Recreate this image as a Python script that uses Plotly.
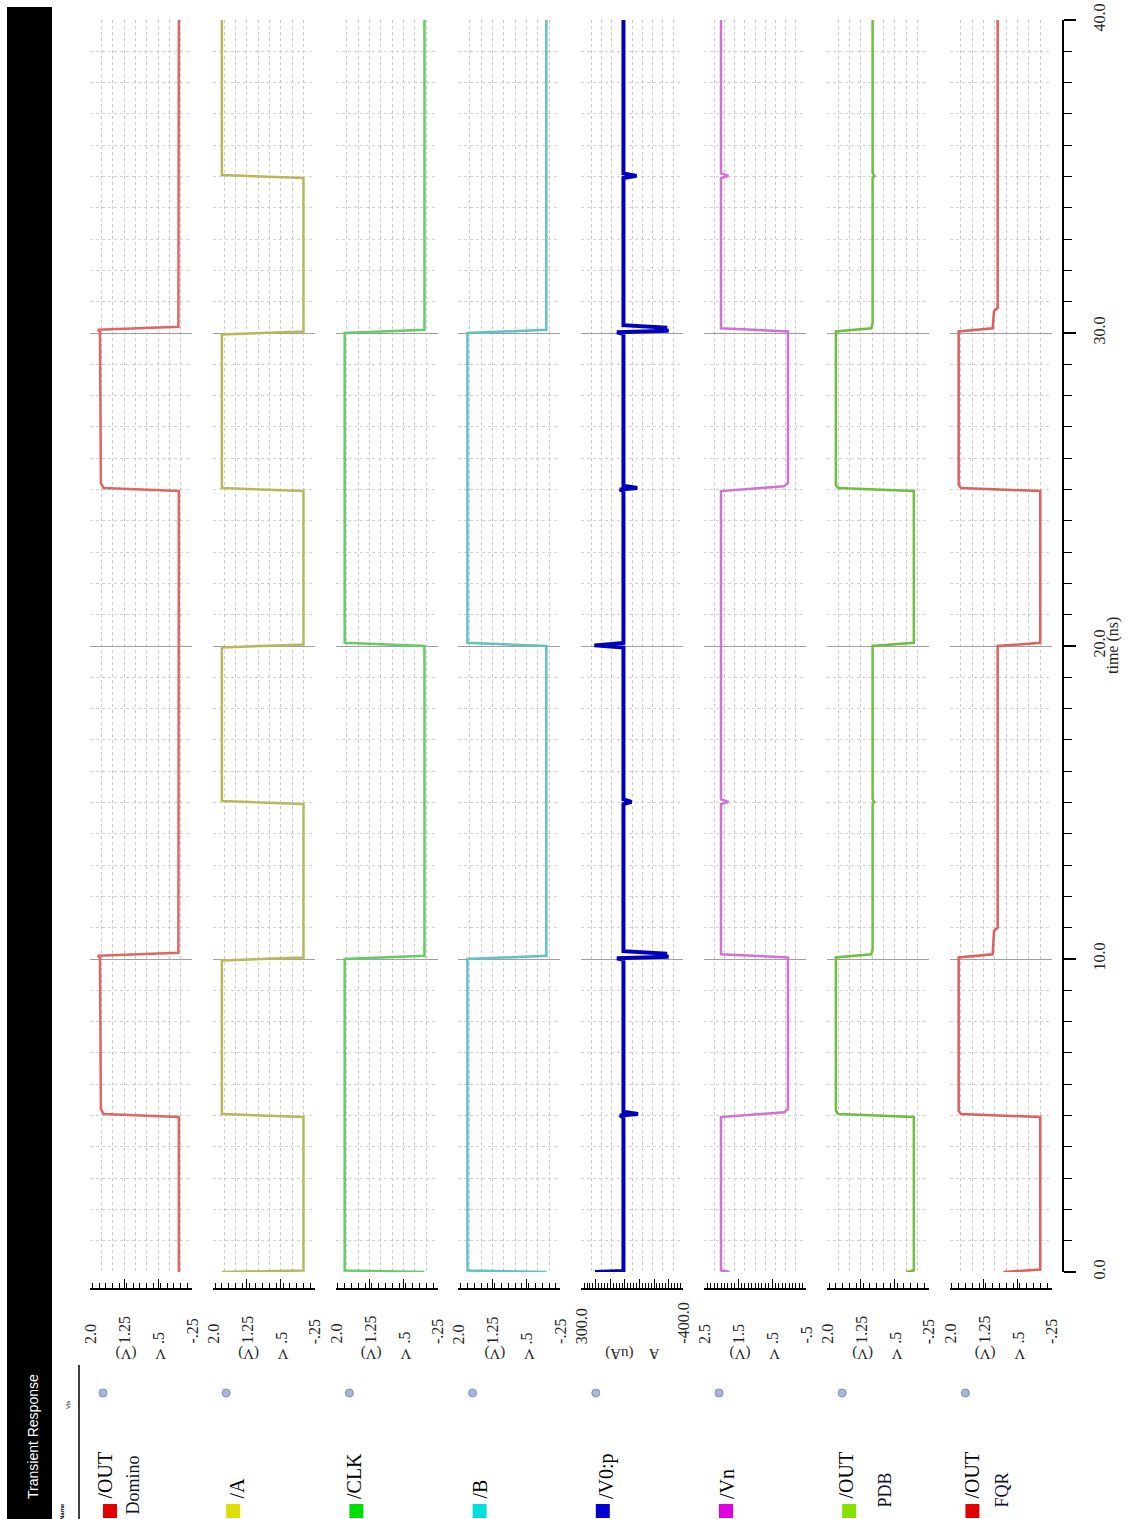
import plotly.graph_objects as go

W, H = 1145, 1519

# ---------------- data (time in ns, values in V or uA) ----------------
SIGNAL_NAMES = [("/OUT", "Domino"), ("/A", ""), ("/CLK", ""), ("/B", ""),
                ("/V0:p", ""), ("/Vn", ""), ("/OUT", "PDB"), ("/OUT", "FQR")]
UNIT_TITLES = ["V&nbsp;&nbsp;&nbsp;&nbsp;&nbsp;(V)"] * 4 + ["A&nbsp;&nbsp;&nbsp;&nbsp;(uA)"] + ["V&nbsp;&nbsp;&nbsp;&nbsp;&nbsp;(V)"] * 3

OUT_DOMINO_T = [0, 4.95, 5.05, 5.2, 10.05, 10.1, 10.2, 24.95, 25.05, 25.2, 30.05, 30.1, 30.2, 40]
OUT_DOMINO_V = [0.04, 0.04, 1.70, 1.76, 1.78, 1.83, 0.05, 0.04, 1.70, 1.76, 1.78, 1.83, 0.05, 0.04]

A_T = [0, 0.05, 4.95, 5.05, 9.95, 10.05, 14.95, 15.05, 19.95, 20.05, 24.95, 25.05, 29.95, 30.05, 34.95, 35.05, 40]
A_V = [1.80, 0.0, 0.0, 1.80, 1.80, 0.0, 0.0, 1.80, 1.80, 0.0, 0.0, 1.80, 1.80, 0.0, 0.0, 1.80, 1.80]

CLK_T = [0, 0.05, 10.0, 10.1, 20.0, 20.1, 30.0, 30.1, 40]
CLK_V = [0.04, 1.80, 1.80, 0.04, 0.04, 1.80, 1.80, 0.04, 0.04]

B_T = [0, 0.05, 10.0, 10.1, 20.0, 20.1, 30.0, 30.1, 40]
B_V = [0.06, 1.80, 1.80, 0.06, 0.06, 1.80, 1.80, 0.06, 0.06]

V0P_T = [0, 0.03, 4.95, 5.0, 5.05, 5.12, 9.97, 10.02, 10.07, 10.12, 10.17, 10.25,
         14.95, 15.02, 15.1, 19.95, 20.02, 20.1, 24.95, 25.0, 25.05, 25.12,
         29.97, 30.02, 30.07, 30.12, 30.17, 30.25, 34.95, 35.02, 35.1, 40]
V0P_V = [205, 10, 10, 35, -90, 10, 10, 55, -300, -200, -290, 10,
         10, -45, 10, 10, 210, 10, 10, 35, -85, 10,
         10, 55, -300, -200, -290, 10, 10, -80, 10, 10]

VN_T = [0, 0.05, 4.95, 5.1, 5.2, 10.05, 10.15, 14.95, 15.02, 15.1, 24.95, 25.1, 25.2,
        30.05, 30.15, 34.95, 35.02, 35.1, 40]
VN_V = [1.75, 2.0, 2.0, 0.15, 0.03, 0.03, 2.0, 2.0, 1.78, 2.0, 2.0, 0.15, 0.03,
        0.03, 2.0, 2.0, 1.78, 2.0, 2.0]

PDB_T = [0, 0.05, 4.95, 5.05, 5.15, 10.05, 10.15, 10.3, 14.95, 15.02, 15.1, 20.0, 20.1,
         24.95, 25.05, 25.15, 30.05, 30.15, 30.3, 34.95, 35.02, 35.1, 40]
PDB_V = [0.25, 0.08, 0.08, 1.75, 1.80, 1.80, 1.02, 0.99, 0.99, 0.95, 0.99, 0.99, 0.08,
         0.08, 1.75, 1.80, 1.80, 1.02, 0.99, 0.99, 0.95, 0.99, 0.99]

FQR_T = [0, 0.08, 4.95, 5.05, 5.15, 10.05, 10.15, 10.9, 11.0, 20.0, 20.1,
         24.95, 25.05, 25.15, 30.05, 30.15, 30.7, 30.8, 40]
FQR_V = [0.81, 0.0, 0.0, 1.75, 1.80, 1.80, 1.05, 1.02, 0.94, 0.94, 0.0,
         0.0, 1.75, 1.80, 1.80, 1.05, 1.02, 0.94, 0.94]

SERIES_T = [OUT_DOMINO_T, A_T, CLK_T, B_T, V0P_T, VN_T, PDB_T, FQR_T]
SERIES_V = [OUT_DOMINO_V, A_V, CLK_V, B_V, V0P_V, VN_V, PDB_V, FQR_V]

AXIS_RANGES = [(2.0, -0.25)] * 4 + [(300.0, -400.0)] + [(2.5, -0.5)] + [(2.0, -0.25)] * 2
TICK_VALS = [[2.0, 1.25, 0.5, -0.25]] * 4 + [[300.0, -400.0]] + [[2.5, 1.5, 0.5, -0.5]] + [[2.0, 1.25, 0.5, -0.25]] * 2
TICK_TEXT = [["2.0", "1.25", ".5", "-.25"]] * 4 + [["300.0", "-400.0"]] + [["2.5", "1.5", ".5", "-.5"]] + [["2.0", "1.25", ".5", "-.25"]] * 2

TIME_RANGE = (0, 40)
TIME_TITLE = "time (ns)"

# ---------------- styles ----------------
LINE_COLORS = ["#e26464", "#b7b85c", "#66cc66", "#60c2c2", "#0000bb", "#d470d4", "#6fbf3e", "#df5e5e"]
LINE_WIDTHS = [2.5, 2.5, 2.5, 2.5, 4.0, 2.5, 2.5, 2.5]
SQUARE_COLORS = ["#e00000", "#dede00", "#00dd00", "#00dede", "#0000d0", "#e000e0", "#88e000", "#e00000"]
GRID_DTICK = [(0.25, -0.25)] * 4 + [(70.0, -400.0)] + [(0.3, -0.5)] + [(0.25, -0.25)] * 2
BAR_TICKS = [(0.75, -0.25, 0.15)] * 4 + [(100.0, -400.0, 20.0)] + [(1.0, -0.5, 0.1)] + [(0.75, -0.25, 0.15)] * 2
NAME_X = [104, 236, 354, 479, 606, 727, 845, 971]
NAME2_X = [132, None, None, None, None, None, 884, 1001]
NAME2_Y = [1517, None, None, None, None, None, 1510, 1510]

SERIF = "Liberation Serif"


def fx(px):
    return px / W


def fy(py):
    return 1 - py / H


fig = go.Figure()
layout = dict(
    width=W, height=H, margin=dict(l=0, r=0, t=0, b=0, autoexpand=False),
    paper_bgcolor="white", plot_bgcolor="white", showlegend=False,
)
annotations = []
shapes = []

PLOT_TOP, PLOT_BOTTOM = 20, 1272
BAR_Y = 1289

for i in range(8):
    k = i + 1
    x0 = 90 + 122.8 * i
    x1 = x0 + 102
    hi, lo = AXIS_RANGES[i]
    gd, g0 = GRID_DTICK[i]
    bd, b0, bm = BAR_TICKS[i]

    fig.add_trace(go.Scatter(
        x=SERIES_V[i], y=SERIES_T[i], mode="lines",
        line=dict(color=LINE_COLORS[i], width=LINE_WIDTHS[i]),
        xaxis=f"x{k}", yaxis=f"y{k}", hoverinfo="skip"))
    # same series bound to the tick-bar axis (invisible) so that axis is drawn
    fig.add_trace(go.Scatter(
        x=SERIES_V[i], y=SERIES_T[i], mode="lines", opacity=0,
        line=dict(color=LINE_COLORS[i], width=0.1),
        xaxis=f"x{k + 8}", yaxis=f"y{k}", hoverinfo="skip"))

    layout[f"xaxis{k}"] = dict(
        domain=[fx(x0), fx(x1)], range=[hi, lo], anchor=f"y{k}",
        showgrid=True, dtick=gd, tick0=g0, gridcolor="#c8c8c8", griddash="dot", gridwidth=1,
        showticklabels=False, ticks="", zeroline=False, showline=False)
    ya = dict(
        domain=[fy(PLOT_BOTTOM), fy(PLOT_TOP)], range=list(TIME_RANGE), anchor=f"x{k}",
        showticklabels=False, ticks="", zeroline=False, showline=False,
        showgrid=True, dtick=10, tick0=0, gridcolor="#a0a0a0", gridwidth=1,
        minor=dict(dtick=1, showgrid=True, gridcolor="#d2d2d2", griddash="dot", gridwidth=1))
    if k > 1:
        ya["matches"] = "y"
    if k == 8:
        # time axis drawn on the right of the last strip
        ya.update(dict(
            anchor="free", position=fx(1063), side="right",
            showline=True, linecolor="black", linewidth=2,
            ticks="outside", ticklen=12, tickwidth=1.5, tickcolor="black",
            showticklabels=True, tickformat=".1f", tickangle=-90, ticklabelstandoff=10,
            ticklabeloverflow="allow", automargin=False,
            tickfont=dict(family=SERIF, size=16, color="#222"),
            minor=dict(dtick=1, showgrid=True, gridcolor="#d2d2d2", griddash="dot", gridwidth=1,
                       ticks="outside", ticklen=8, tickwidth=1.2, tickcolor="black")))
    layout[f"yaxis{k}"] = ya

    # tick bar under each strip
    layout[f"xaxis{k + 8}"] = dict(
        overlaying=f"x{k}", matches=f"x{k}", range=[hi, lo], anchor="free", position=fy(BAR_Y),
        side="bottom", showline=True, linecolor="black", linewidth=1.5,
        ticks="inside", ticklen=9, tickwidth=1.2, tickcolor="black", dtick=bd, tick0=b0,
        minor=dict(dtick=bm, ticks="inside", ticklen=5, tickwidth=1, tickcolor="black"),
        showticklabels=False, showgrid=False, zeroline=False, automargin=False)

    # tick labels (rotated text placed on the axis scale)
    for v, t in zip(TICK_VALS[i], TICK_TEXT[i]):
        annotations.append(dict(
            x=v, xref=f"x{k}", y=fy(1346), yref="paper", text=t, showarrow=False,
            textangle=-90, xanchor="center", yanchor="bottom",
            font=dict(family=SERIF, size=16, color="#222")))
    # axis unit title (upside down)
    annotations.append(dict(
        x=(hi + lo) / 2, xref=f"x{k}", y=fy(1354), yref="paper", text=UNIT_TITLES[i],
        showarrow=False, textangle=180, xanchor="center", yanchor="middle",
        font=dict(family=SERIF, size=15, color="#222")))

    # visibility dot
    cx, cy = 103 + 123.2 * i, 1393
    shapes.append(dict(type="circle", xref="paper", yref="paper",
                       x0=fx(cx - 4), x1=fx(cx + 4), y0=fy(cy + 4), y1=fy(cy - 4),
                       fillcolor="#aab5d8", line=dict(color="#8090c0", width=1)))
    # colour square
    sq = 103 + 123.2 * i
    shapes.append(dict(type="rect", xref="paper", yref="paper",
                       x0=fx(sq), x1=fx(sq + 14), y0=fy(1518), y1=fy(1504),
                       fillcolor=SQUARE_COLORS[i], line=dict(width=0)))
    # names
    n1, n2 = SIGNAL_NAMES[i]
    annotations.append(dict(
        x=fx(NAME_X[i]), xref="paper", y=fy(1501), yref="paper", text=n1, showarrow=False,
        textangle=-90, xanchor="center", yanchor="bottom",
        font=dict(family=SERIF, size=20, color="black")))
    if n2:
        annotations.append(dict(
            x=fx(NAME2_X[i]), xref="paper", y=fy(NAME2_Y[i]), yref="paper", text=n2,
            showarrow=False, textangle=-90, xanchor="center", yanchor="bottom",
            font=dict(family=SERIF, size=18, color="#101030")))

# time axis title
annotations.append(dict(x=fx(1113), xref="paper", y=(fy(PLOT_BOTTOM) + fy(PLOT_TOP)) / 2, yref="paper",
                        text=TIME_TITLE, showarrow=False, textangle=-90, xanchor="center", yanchor="middle",
                        font=dict(family=SERIF, size=16, color="#222")))

# left header panel
shapes.append(dict(type="rect", xref="paper", yref="paper", x0=fx(7), x1=fx(52),
                   y0=0, y1=fy(7), fillcolor="black", line=dict(width=0), layer="below"))
shapes.append(dict(type="line", xref="paper", yref="paper", x0=fx(79), x1=fx(79),
                   y0=0, y1=fy(1365), line=dict(color="black", width=1.5)))
annotations.append(dict(x=fx(33), xref="paper", y=fy(1437), yref="paper", text="Transient Response",
                        showarrow=False, textangle=-90, xanchor="center", yanchor="middle",
                        font=dict(family="Liberation Sans", size=14, color="white")))
annotations.append(dict(x=fx(62), xref="paper", y=fy(1512), yref="paper", text="<b>Name</b>",
                        showarrow=False, textangle=-90, xanchor="center", yanchor="middle",
                        font=dict(family="Liberation Sans", size=6, color="black")))
annotations.append(dict(x=fx(68), xref="paper", y=fy(1405), yref="paper", text="Vis",
                        showarrow=False, textangle=-90, xanchor="center", yanchor="middle",
                        font=dict(family="Liberation Sans", size=6, color="black")))

layout["annotations"] = annotations
layout["shapes"] = shapes
fig.update_layout(**layout)
fig.write_html(
    "out.html",
    config={"displayModeBar": False},
    post_script="document.body.style.margin='0px';document.documentElement.style.overflow='hidden';",
)
